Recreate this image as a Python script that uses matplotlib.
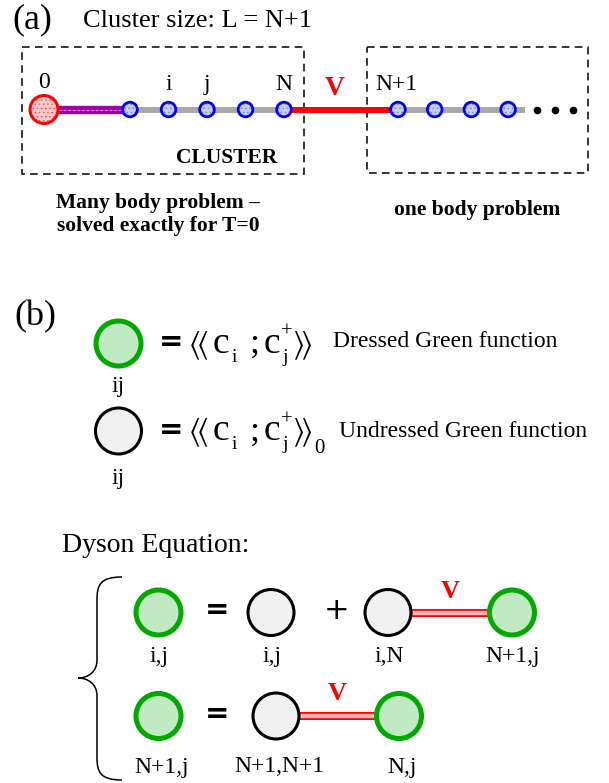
"""Cluster + Dyson equation sketch: (a) chain split into cluster / one-body part, (b) diagrams."""
import numpy as np
import matplotlib; matplotlib.use("Agg")
import matplotlib.pyplot as plt
from matplotlib.patches import Circle, Rectangle, PathPatch
from matplotlib.path import Path

plt.rcParams["mathtext.fontset"] = "stix"
plt.rcParams["hatch.linewidth"] = 0.6
SERIF = "Liberation Serif"

# ---- content --------------------------------------------------------------
header = "Cluster size: L = N+1"
cluster_sites = ["0", "", "i", "j", "", "N"]
bath_sites = ["N+1", "", "", ""]
n_dots = 3
coupling = "V"
cluster_tag = "CLUSTER"
cluster_caption = ["Many body problem \u2013", "solved exactly for T=0"]
bath_caption = "one body problem"

gf_kinds = ["dressed", "bare"]
gf_index = ["ij", "ij"]
gf_names = ["Dressed Green function", "Undressed Green function"]

dyson_title = "Dyson Equation:"
row1_kinds = ["dressed", "bare", "bare", "dressed"]
row1_labels = ["i,j", "i,j", "i,N", "N+1,j"]
row1_ops = ["=", "+", "V"]
row2_kinds = ["dressed", "bare", "dressed"]
row2_labels = ["N+1,j", "N+1,N+1", "N,j"]
row2_ops = ["=", "V"]


def txt(ax, x, y, s, size, ha="center", va="baseline", **kw):
    kw.setdefault("family", SERIF)
    ax.text(x, y, s, fontsize=size, ha=ha, va=va, **kw)


def site(ax, x, y, r, ec, fc, hc, lw):
    ax.add_patch(Circle((x, y), r, fc=fc, ec=hc, lw=0, hatch="....", zorder=4))
    ax.add_patch(Circle((x, y), r, fc="none", ec=ec, lw=lw, zorder=5))


def gf(ax, x, y, kind):
    if kind == "dressed":
        ax.add_patch(Circle((x, y), 22.5, fc="#c2eac2", ec="#00a800", lw=3.6, zorder=3))
    else:
        ax.add_patch(Circle((x, y), 23, fc="#f0f0f0", ec="black", lw=2.2, zorder=3))


def link(ax, x1, x2, y):
    ax.plot([x1, x2], [y, y], color="red", lw=5.8, solid_capstyle="butt", zorder=2)
    ax.plot([x1, x2], [y, y], color="#ffb0b0", lw=3.2, solid_capstyle="butt", zorder=2)


def gf_def(ax, cy, zero):
    txt(ax, 171, cy - 1.5, "=", 21, va="center", family="DejaVu Sans", weight="bold")
    txt(ax, 198, cy + 2, r"$\langle\!\langle$", 22, va="center")
    txt(ax, 221, cy + 9.5, "c", 27)
    txt(ax, 234, cy + 18, "i", 14)
    txt(ax, 254, cy + 9.5, ";", 26)
    txt(ax, 272, cy + 9.5, "c", 27)
    txt(ax, 287, cy - 11, "+", 15, va="center")
    txt(ax, 285.5, cy + 18, "j", 14)
    txt(ax, 302, cy + 2, r"$\rangle\!\rangle$", 22, va="center")
    if zero:
        txt(ax, 319, cy + 22, "0", 15)


fig = plt.figure(figsize=(6.09, 7.83), dpi=100)
ax = fig.add_axes([0, 0, 1, 1])
ax.set_xlim(0, 609); ax.set_ylim(783, 0); ax.axis("off")

# ---- (a) ------------------------------------------------------------------
txt(ax, 12, 28, "(a)", 26, ha="left")
txt(ax, 83, 27, header, 19, ha="left")
yc = 109.5
cx = [44] + [130 + 38.5 * k for k in range(len(cluster_sites) - 1)]
bx = [398 + 36.7 * k for k in range(len(bath_sites))]
dx = [537 + 18 * k for k in range(n_dots)]

for r in [Rectangle((22, 47), 282, 127), Rectangle((367, 47), 221, 126)]:
    r.set(fill=False, ec="black", lw=1.1, ls=(0, (5, 3.5)), zorder=1)
    ax.add_patch(r)

ax.plot([33, cx[1]], [yc, yc], color="#a000a8", lw=6.0, solid_capstyle="butt", zorder=2)
ax.plot([40, cx[1]], [yc, yc], color="#d8a0dc", lw=0.6, ls=(0, (4, 1.5)), zorder=2)
ax.plot([cx[1], cx[-1]], [yc, yc], color="#a8a8a8", lw=4.3, solid_capstyle="butt", zorder=2)
ax.plot([cx[-1], bx[0]], [yc, yc], color="red", lw=4.3, solid_capstyle="butt", zorder=2)
ax.plot([bx[0], bx[-1] + 17], [yc, yc], color="#a8a8a8", lw=4.3, solid_capstyle="butt", zorder=2)
ax.plot(dx, [yc] * n_dots, "o", color="black", ms=4.5, zorder=3)

site(ax, cx[0], yc, 14, "red", "#ffcaca", "#ff5050", 2.2)
for x in cx[1:] + bx:
    site(ax, x, yc, 7.3, "#0000ff", "#c8ccf4", "#7c86d8", 2.0)
for x, lab in zip(cx, cluster_sites):
    txt(ax, x, 88 if lab == "0" else 90, lab, 17)
for x, lab in zip(bx, bath_sites):
    txt(ax, x - 2, 90, lab, 17)
txt(ax, 335, 95, coupling, 20, color="red", weight="bold")

txt(ax, 227, 163, cluster_tag, 15.5, weight="bold")
txt(ax, 158, 208, cluster_caption[0], 15.5, weight="bold")
txt(ax, 158, 231, cluster_caption[1], 15.5, weight="bold")
txt(ax, 477, 215, bath_caption, 15.5, weight="bold")

# ---- (b) ------------------------------------------------------------------
txt(ax, 14, 325, "(b)", 26, ha="left")
for cy, kind, idx, name, zero, base, nb in zip([343.5, 431], gf_kinds, gf_index, gf_names,
                                               [False, True], [392, 484], [333, 339]):
    gf(ax, 118.5, cy, kind)
    txt(ax, 118, base, idx, 17)
    gf_def(ax, cy, zero)
    txt(ax, nb, cy + 3.5 + (0 if not zero else 2.5), name, 17, ha="left")

txt(ax, 62, 552, dyson_title, 20, ha="left")

brace = Path([(122, 577), (100, 577), (97, 585), (97, 600), (97, 660),
              (97, 672), (88, 678), (78, 678), (88, 678), (97, 684), (97, 696),
              (97, 757), (97, 772), (100, 780), (122, 780)],
             [Path.MOVETO, Path.CURVE4, Path.CURVE4, Path.CURVE4, Path.LINETO,
              Path.CURVE4, Path.CURVE4, Path.CURVE4, Path.CURVE4, Path.CURVE4, Path.CURVE4,
              Path.LINETO, Path.CURVE4, Path.CURVE4, Path.CURVE4])
ax.add_patch(PathPatch(brace, fill=False, ec="black", lw=1.1))

# row 1: G = G0 + G0 -V- G
y1 = 612.5
x1 = [158.5, 271, 388, 512]
for x, k, lab in zip(x1, row1_kinds, row1_labels):
    gf(ax, x, y1, k)
    txt(ax, x + 1, 662, lab, 17)
txt(ax, 217, y1 - 2, row1_ops[0], 21, va="center", family="DejaVu Sans", weight="bold")
txt(ax, 337, y1 - 2, row1_ops[1], 22, va="center", family="DejaVu Sans")
link(ax, x1[2], x1[3], y1)
txt(ax, (x1[2] + x1[3]) / 2, 598, row1_ops[2], 19, color="red", weight="bold")

# row 2: G = G0 -V- G
y2 = 716
x2 = [158.5, 276, 399]
for x, k, lab in zip(x2, row2_kinds, row2_labels):
    gf(ax, x, y2, k)
    txt(ax, x + 3, 772.5, lab, 17)
txt(ax, 217, y2 - 2, row2_ops[0], 21, va="center", family="DejaVu Sans", weight="bold")
link(ax, x2[1], x2[2], y2)
txt(ax, (x2[1] + x2[2]) / 2, 700, row2_ops[1], 19, color="red", weight="bold")

fig.savefig("out.png", dpi=100)
